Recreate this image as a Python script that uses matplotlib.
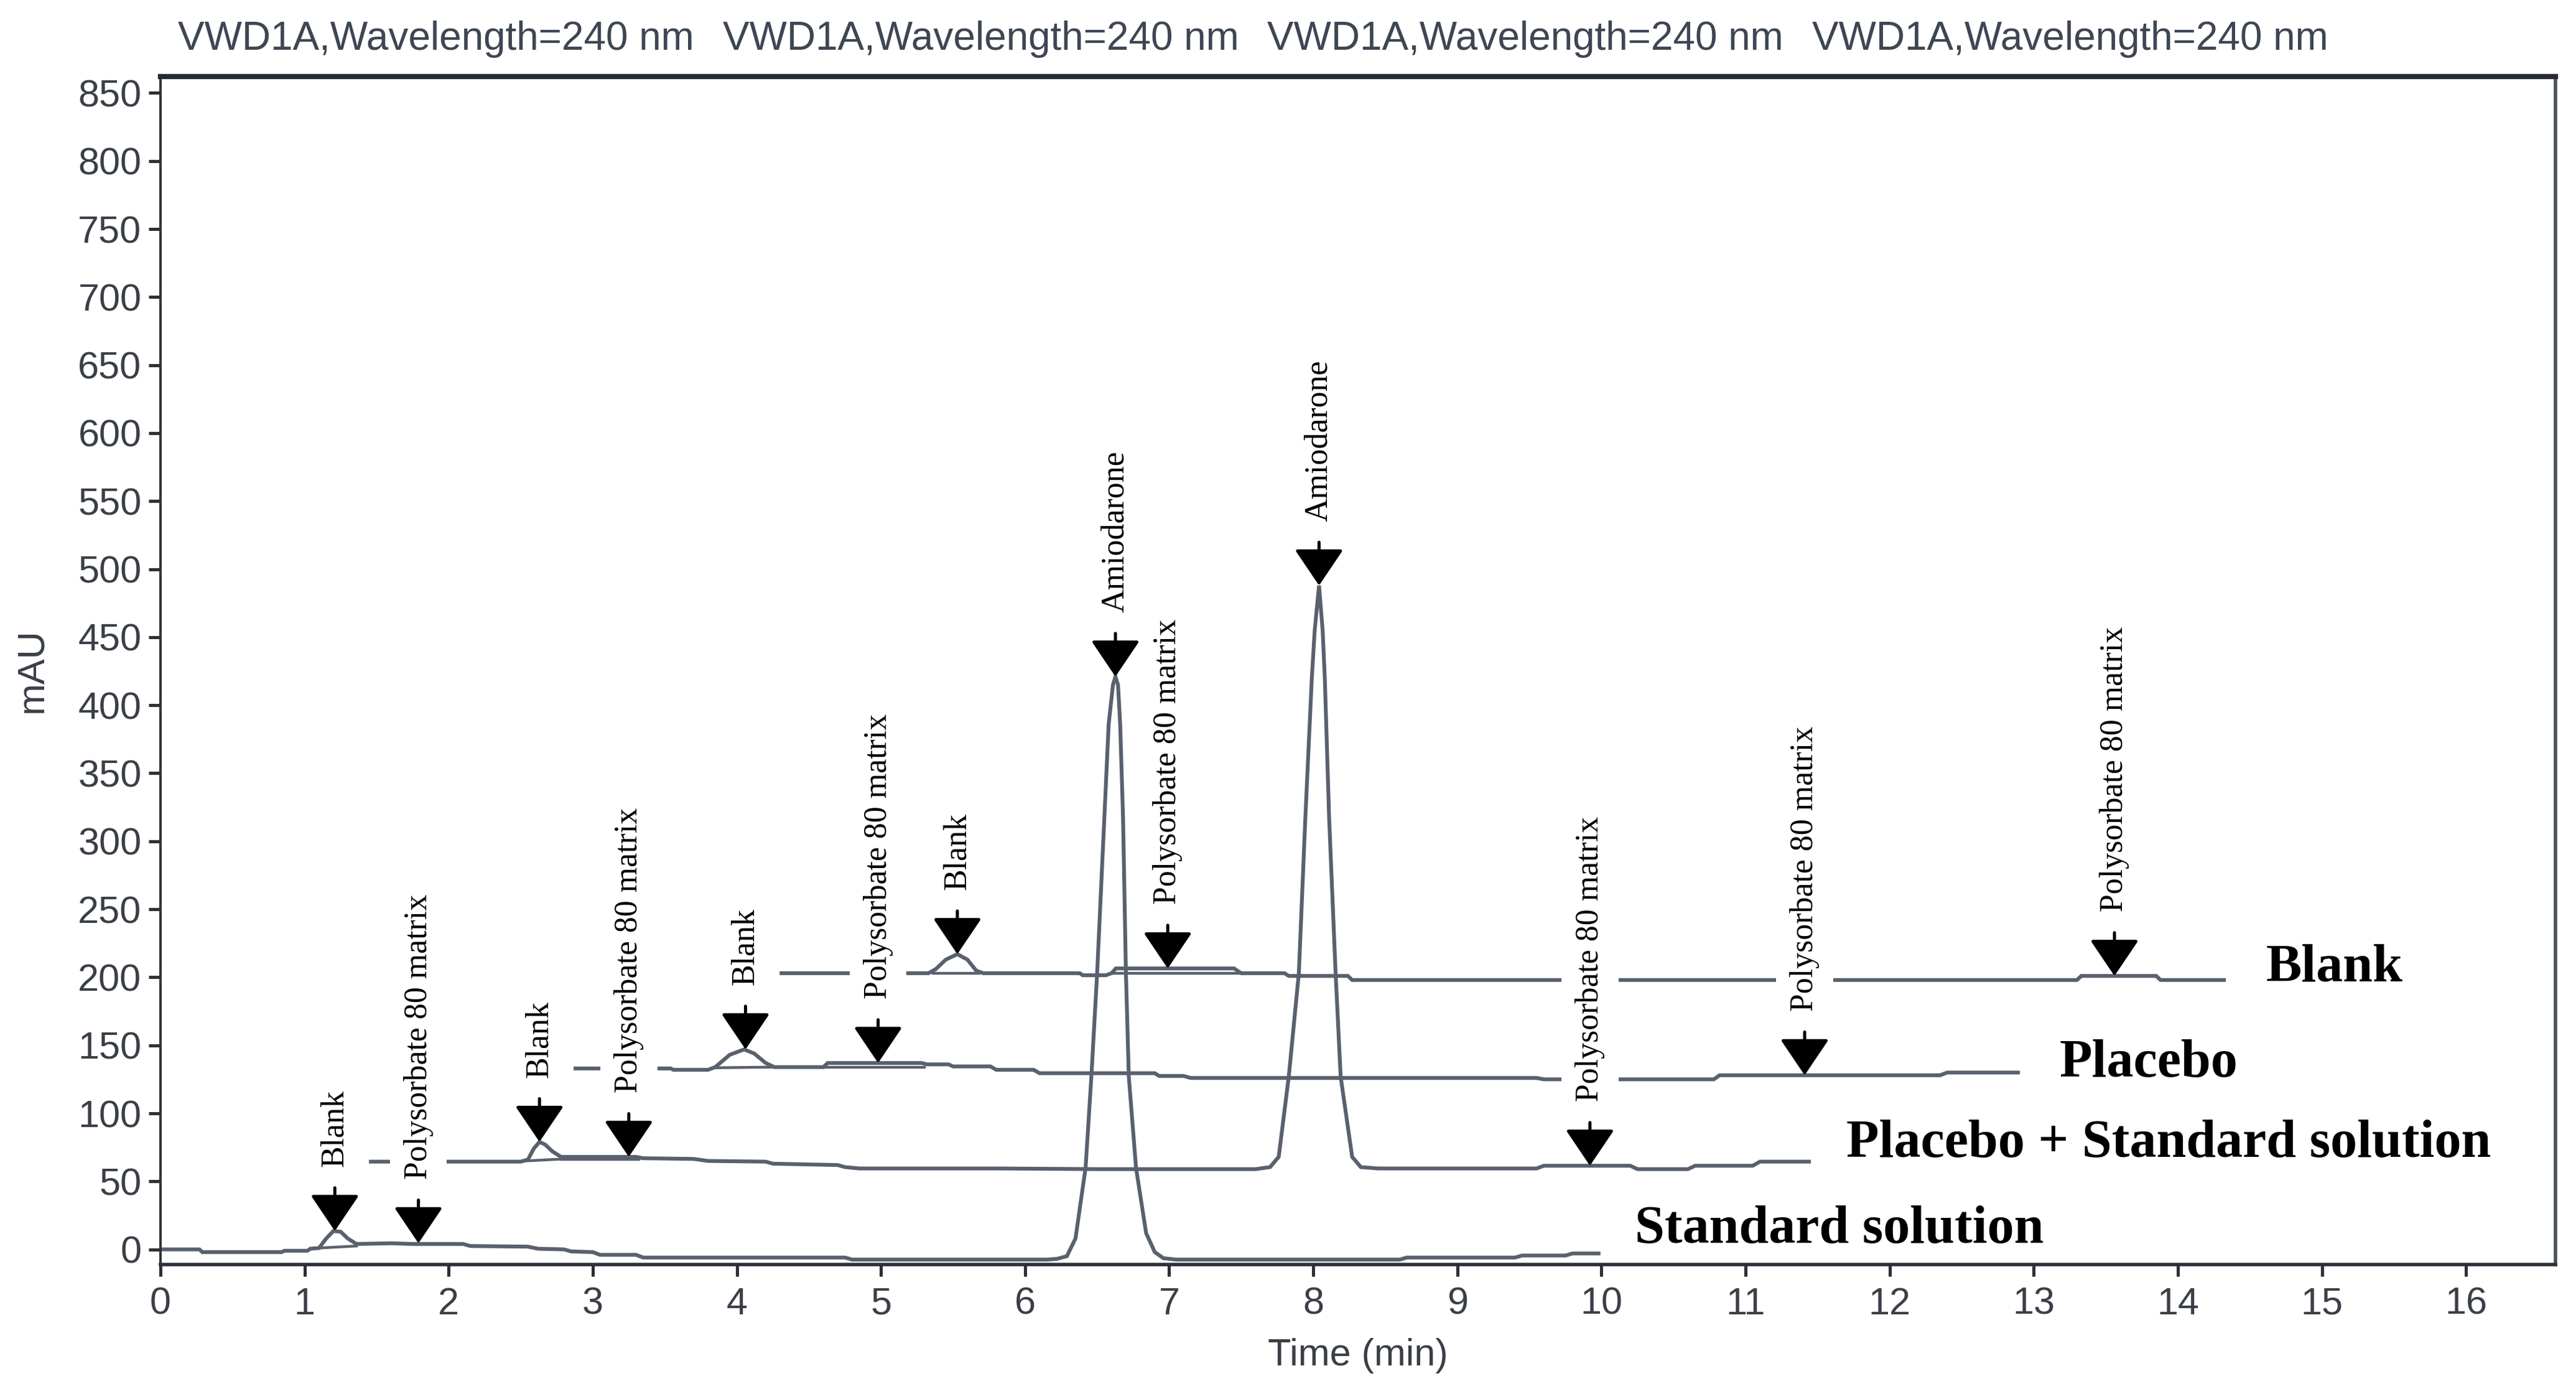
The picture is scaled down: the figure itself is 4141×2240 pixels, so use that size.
import matplotlib
matplotlib.use("Agg")
import matplotlib.pyplot as plt

# ---------------- data ----------------
# Standard solution trace
std_t = [0.00, 0.27, 0.29, 0.84, 0.86, 1.02, 1.04, 1.10, 1.15, 1.20, 1.25, 1.30, 1.36,
         1.60, 1.75, 2.10, 2.15, 2.55, 2.62, 2.80, 2.85, 3.00, 3.05, 3.30, 3.35, 4.75,
         4.80, 6.15, 6.22, 6.29, 6.35, 6.42, 6.46, 6.50, 6.55, 6.58, 6.61, 6.627, 6.645,
         6.66, 6.68, 6.70, 6.72, 6.77, 6.84, 6.90, 6.96, 7.05, 8.60, 8.65, 9.40, 9.45,
         9.75, 9.80, 9.98]
std_y = [0.0, 0.0, -2.0, -2.0, -1.0, -1.0, 0.5, 1.0, 8.0, 13.5, 13.0, 8.0, 4.0,
         4.5, 4.0, 4.0, 2.5, 2.0, 0.5, 0.0, -1.5, -2.0, -4.0, -4.0, -6.0, -6.0,
         -7.5, -7.5, -7.0, -5.0, 8.0, 60, 127, 203, 317, 386, 415, 421, 415,
         386, 317, 203, 127, 60, 12, -2.0, -6.5, -7.5, -7.5, -6.0, -6.0, -4.5,
         -4.5, -3.0, -3.0]

# Placebo + Standard solution trace
ps_t = [1.46, 2.50, 2.55, 2.59, 2.63, 2.67, 2.72, 2.78, 3.30, 3.35, 3.70, 3.80, 4.20,
        4.25, 4.70, 4.75, 4.85, 5.80, 6.50, 7.60, 7.70, 7.76, 7.83, 7.90, 7.945, 7.99,
        8.01, 8.04, 8.065, 8.08, 8.11, 8.155, 8.19, 8.27, 8.33, 8.45, 9.55, 9.60,
        10.20, 10.25, 10.60, 10.65, 11.05, 11.10, 11.44]
ps_y = [64.5, 64.5, 66, 74, 79, 77, 72, 68, 68, 67, 66.5, 65, 64.5,
        63, 62, 60.5, 59.5, 59.5, 59, 59, 60.5, 68, 127, 203, 317, 420,
        455, 488, 455, 420, 317, 203, 127, 68, 60.5, 59.5, 59.5, 61.5,
        61.5, 59, 59, 61.5, 61.5, 64.5, 64.5]

# Placebo trace
pl_t = [2.88, 3.54, 3.56, 3.80, 3.85, 3.95, 4.05, 4.12, 4.20, 4.26, 4.60, 4.63, 5.28,
        5.32, 5.47, 5.50, 5.76, 5.80, 6.06, 6.10, 6.90, 6.93, 7.10, 7.15, 9.55, 9.60,
        10.78, 10.82, 12.35, 12.40, 12.89]
pl_y = [133, 133, 132, 132, 134, 143, 147, 144, 137, 134, 134, 137, 137,
        136, 136, 134.5, 134.5, 132, 132, 129.5, 129.5, 127.5, 127.5, 126, 126, 125,
        125, 128, 128, 130, 130]

# Blank trace
bl_t = [4.31, 5.33, 5.38, 5.45, 5.53, 5.60, 5.66, 5.71, 6.38, 6.40, 6.56, 6.60, 6.63,
        7.45, 7.50, 7.80, 7.83, 8.24, 8.27, 13.30, 13.33, 13.85, 13.88, 14.32]
bl_y = [203, 203, 206, 213, 217, 213, 205, 203, 203, 201.5, 201.5, 203, 206.5,
        206.5, 203, 203, 201, 201, 198, 198, 201, 201, 198, 198]

# baseline segments visible underneath small peaks / bumps (doubled lines)
under_t = [[1.10, 1.36], [2.53, 2.80], [2.78, 3.32], [3.85, 4.24], [4.60, 5.30],
           [5.36, 5.68], [6.60, 7.48]]
under_y = [[1.0, 2.5], [65, 66.5], [66, 66], [133.5, 134], [134, 134],
           [203, 203], [203, 203]]

# peak annotations: arrow tip (time, mAU) and label
ann_t = [1.21, 1.79, 2.63, 3.25, 4.06, 4.98, 5.53, 6.627, 6.99, 8.04, 9.92, 11.41, 13.56]
ann_y = [13.5, 4.5, 79, 68, 147, 137, 217, 421, 206.5, 488, 61.5, 128, 201]
ann_txt = ['Blank', 'Polysorbate 80 matrix', 'Blank', 'Polysorbate 80 matrix',
           'Blank', 'Polysorbate 80 matrix', 'Blank', 'Amiodarone',
           'Polysorbate 80 matrix', 'Amiodarone', 'Polysorbate 80 matrix',
           'Polysorbate 80 matrix', 'Polysorbate 80 matrix']

# trace names and their label anchor (time, mAU baseline of text)
trace_names = ['Blank', 'Placebo', 'Placebo + Standard solution', 'Standard solution']
name_t = [14.61, 13.18, 11.70, 10.23]
name_y = [197, 127, 68, 5]

title_txt = 'VWD1A,Wavelength=240 nm'
title_x = [0.069, 0.2805, 0.492, 0.7035]

x_ticks = list(range(0, 17))
y_ticks = list(range(0, 851, 50))

# ---------------- drawing ----------------
line_col = '#59616e'
txt_col = '#3a3f47'
sans = ['Liberation Sans', 'DejaVu Sans']
serif = ['Liberation Serif', 'DejaVu Serif']

fig = plt.figure(figsize=(20.705, 11.2), dpi=200, facecolor='white')
ax = fig.add_axes([0.0623, 0.093, 0.9297, 0.852])

for t, y in [(std_t, std_y), (ps_t, ps_y), (pl_t, pl_y), (bl_t, bl_y)]:
    ax.plot(t, y, color=line_col, lw=2.2, zorder=2, solid_joinstyle='miter')
for t, y in zip(under_t, under_y):
    ax.plot(t, y, color=line_col, lw=1.6, zorder=2)

for t, y, s in zip(ann_t, ann_y, ann_txt):
    ax.annotate('', xy=(t, y), xytext=(0, 25), textcoords='offset points',
                arrowprops=dict(arrowstyle='-|>,head_length=0.4,head_width=0.27',
                                mutation_scale=46, color='black', lw=1.8,
                                shrinkA=0, shrinkB=0), zorder=3)
    ax.annotate(s, xy=(t, y), xytext=(0, 37), textcoords='offset points',
                rotation=90, ha='center', va='bottom', fontsize=18.7,
                family=serif, color='black', zorder=4,
                bbox=dict(boxstyle='square,pad=0.42', facecolor='white',
                          edgecolor='none'))

for s, t, y in zip(trace_names, name_t, name_y):
    ax.text(t, y, s, fontsize=31, fontweight='bold', family=serif,
            color='black', ha='left', va='baseline', zorder=5)

ax.set_xlim(0, 16.62)
ax.set_ylim(-11, 862)
ax.set_xticks(x_ticks)
ax.set_yticks(y_ticks)
ax.tick_params(axis='both', direction='out', length=7, width=1.8,
               color='#2c3038', labelsize=22, labelcolor=txt_col, pad=4)
ax.tick_params(axis='x', pad=6)
for lab in ax.get_xticklabels() + ax.get_yticklabels():
    lab.set_family(sans)

ax.spines['top'].set_linewidth(3.0)
ax.spines['top'].set_color('#262a33')
ax.spines['bottom'].set_linewidth(2.0)
ax.spines['bottom'].set_color('#2c3038')
ax.spines['left'].set_linewidth(1.4)
ax.spines['left'].set_color('#2c3038')
ax.spines['right'].set_linewidth(2.0)
ax.spines['right'].set_color('#4a5058')

ax.set_xlabel('Time (min)', fontsize=22, color=txt_col, family=sans, labelpad=9)
ax.set_ylabel('mAU', fontsize=22, color=txt_col, family=sans, labelpad=16)

for x in title_x:
    fig.text(x, 0.972, title_txt, fontsize=23, color='#3e4653', family=sans,
             ha='left', va='center')

fig.savefig('out.png', dpi=200, facecolor='white')
